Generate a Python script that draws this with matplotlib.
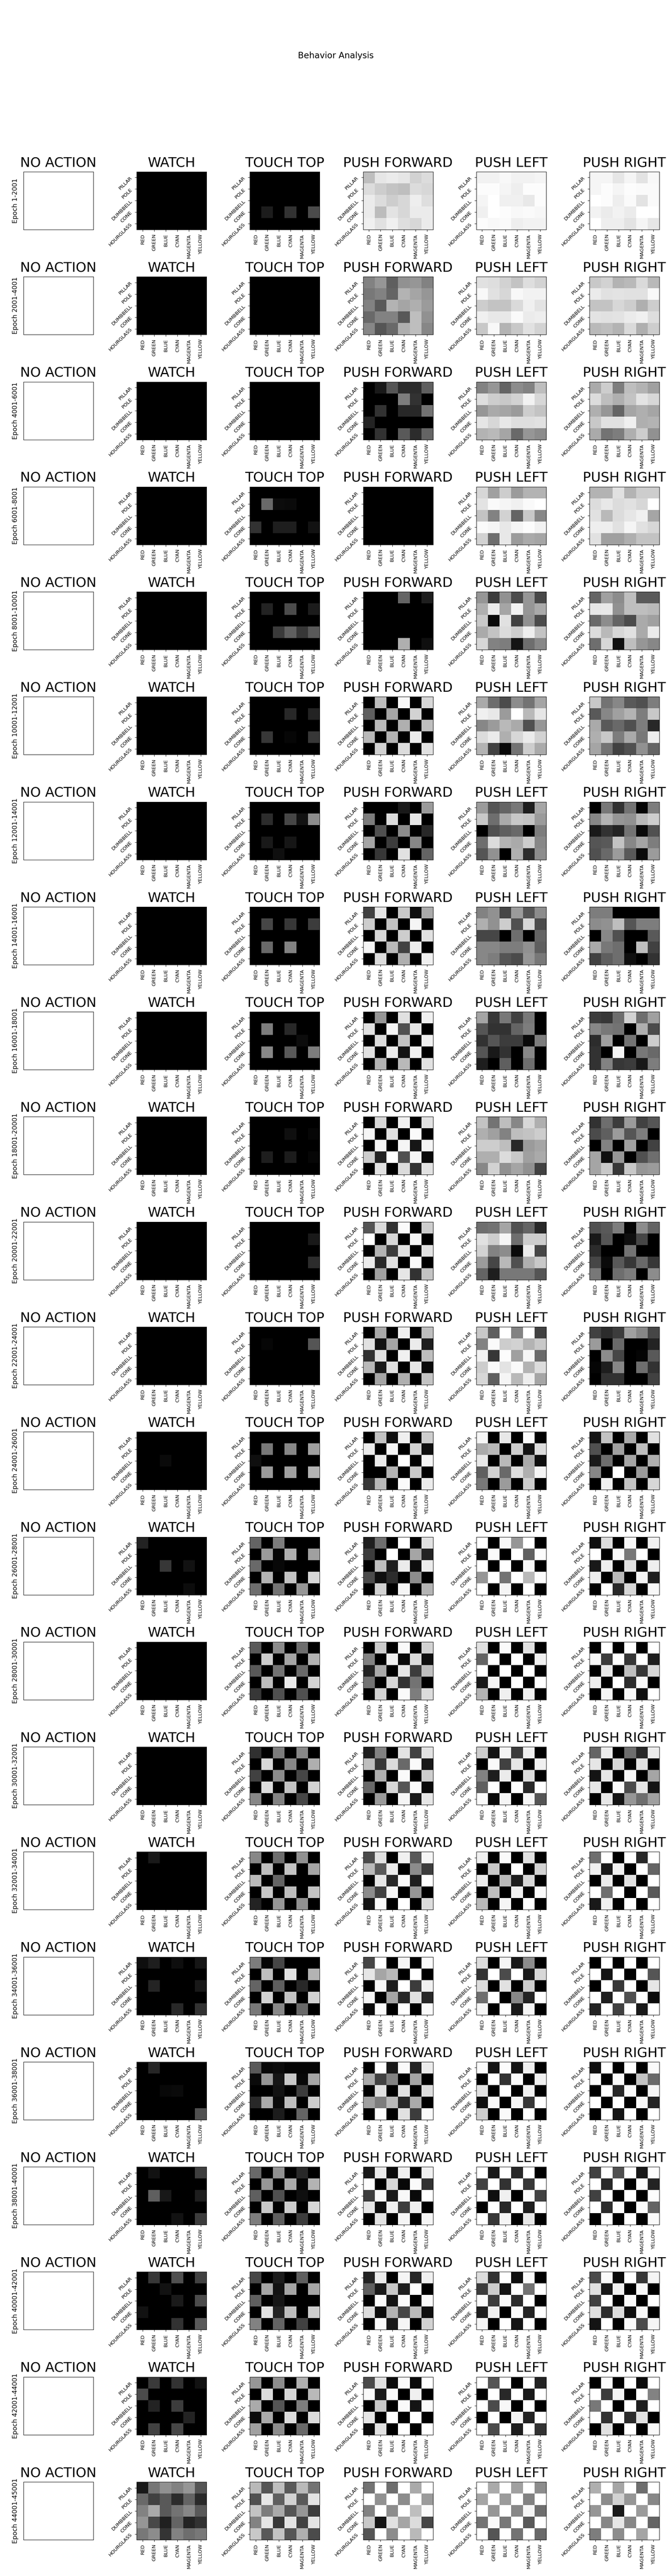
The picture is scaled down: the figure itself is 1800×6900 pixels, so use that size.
import numpy as np
import matplotlib
matplotlib.use('Agg')
import matplotlib.pyplot as plt

acciones = ['NO ACTION', 'WATCH', 'TOUCH TOP', 'PUSH FORWARD', 'PUSH LEFT', 'PUSH RIGHT']
colores = ['RED', 'GREEN', 'BLUE', 'CYAN', 'MAGENTA', 'YELLOW']
formas = ['PILLAR', 'POLE', 'DUMBBELL', 'CONE', 'HOURGLASS']
epocas = ['1-2001', '2001-4001', '4001-6001', '6001-8001', '8001-10001', '10001-12001',
          '12001-14001', '14001-16001', '16001-18001', '18001-20001', '20001-22001',
          '22001-24001', '24001-26001', '26001-28001', '28001-30001', '30001-32001',
          '32001-34001', '34001-36001', '36001-38001', '38001-40001', '40001-42001',
          '42001-44001', '44001-45001']

# gray level of each cell (0-255), one panel per epoch
Z = [[0, 0, 0, 0, 0, 0]] * 5

watch = [Z, Z, Z, Z, Z, Z, Z, Z, Z, Z, Z, Z,
    [[0,0,0,0,0,0],[0,0,0,0,0,0],[0,0,10,0,0,0],[0,0,0,0,0,0],[0,0,0,0,0,0]],
    [[35,0,0,0,0,0],[0,0,0,0,0,0],[0,0,55,0,18,0],[0,0,0,0,0,0],[0,0,0,0,12,0]],
    Z, Z,
    [[0,25,0,0,0,0],[0,0,0,0,0,0],[0,0,0,0,0,0],[0,0,0,0,0,0],[0,0,0,0,0,0]],
    [[14,30,0,14,0,22],[0,0,0,0,0,0],[0,36,0,0,0,24],[0,0,0,0,0,0],[0,0,0,40,0,50]],
    [[0,38,0,0,0,0],[0,0,0,0,0,0],[0,0,8,10,0,0],[0,0,0,0,0,0],[0,0,0,0,0,80]],
    [[0,18,0,0,0,62],[0,0,0,0,0,0],[0,95,24,0,0,30],[0,0,0,0,0,0],[0,0,0,18,0,60]],
    [[0,55,0,80,0,65],[0,0,18,0,0,0],[0,0,0,26,0,75],[18,0,0,0,0,0],[0,0,0,50,0,90]],
    [[0,58,0,50,0,18],[75,0,0,0,0,0],[0,35,0,60,0,0],[0,0,0,0,35,0],[0,65,0,70,0,0]],
    [[25,118,145,130,150,85],[105,65,90,45,100,42],[130,170,90,115,135,90],[150,72,32,100,35,50],[120,140,52,130,110,120]],
]

touch_top = [
    [[0,0,0,0,0,0],[0,0,0,0,0,0],[0,0,0,0,0,0],[0,28,0,50,0,75],[0,0,0,0,0,0]],
    Z, Z,
    [[0,0,0,0,0,0],[0,105,12,10,0,0],[0,0,0,0,0,0],[50,0,30,30,0,18],[0,0,0,0,0,0]],
    [[0,0,0,0,0,0],[0,35,0,75,0,28],[0,0,0,0,0,0],[0,0,58,95,55,90],[0,0,0,0,0,0]],
    [[0,0,0,0,0,0],[0,0,0,40,0,35],[0,0,0,0,0,0],[0,55,0,6,0,55],[0,0,0,0,0,0]],
    [[0,0,0,0,0,0],[0,45,0,70,18,140],[0,0,0,0,0,0],[0,25,0,22,0,0],[0,0,15,0,0,0]],
    [[0,0,0,0,0,0],[0,70,0,55,0,60],[0,0,0,0,0,0],[0,105,0,130,0,0],[0,0,0,0,0,0]],
    [[0,0,0,0,0,0],[0,125,0,40,0,0],[0,0,0,0,12,0],[0,135,0,90,0,125],[0,0,0,0,0,0]],
    [[0,0,0,0,0,0],[0,0,0,15,0,6],[0,0,0,0,0,0],[0,30,0,28,0,6],[0,0,0,0,0,0]],
    [[0,0,0,0,0,0],[0,0,0,0,0,25],[0,0,0,0,0,0],[0,0,0,0,0,45],[0,0,0,0,0,0]],
    [[0,0,0,0,0,0],[0,6,0,0,0,85],[0,0,0,0,0,0],[0,0,0,0,0,0],[0,0,0,0,0,0]],
    [[0,0,0,0,0,0],[0,120,0,135,0,160],[15,0,0,0,0,0],[0,155,0,160,0,180],[0,0,0,0,0,0]],
    [[100,0,125,0,0,0],[0,155,5,175,0,160],[105,0,8,0,0,0],[0,180,0,195,0,215],[110,0,115,0,150,0]],
    [[90,0,140,0,110,0],[0,205,0,165,0,180],[90,0,115,0,105,0],[0,190,0,235,0,210],[55,0,80,0,80,0]],
    [[48,0,125,0,135,0],[0,215,0,135,0,175],[65,0,140,0,70,0],[0,220,0,195,0,210],[135,0,130,0,70,0]],
    [[135,0,110,0,145,0],[0,190,0,195,0,165],[185,0,100,0,0,0],[0,200,0,190,0,195],[35,0,150,0,145,0]],
    [[125,5,70,0,0,0],[0,190,0,225,0,180],[100,0,95,0,40,0],[0,210,0,195,0,210],[120,0,135,0,105,0]],
    [[90,8,12,5,5,5],[10,150,22,200,8,165],[0,0,18,0,60,0],[40,170,10,190,0,205],[0,0,28,0,100,0]],
    [[105,0,145,0,40,0],[0,150,0,170,5,180],[95,0,80,0,15,0],[0,200,0,205,0,215],[125,0,95,0,60,0]],
    [[70,0,28,0,95,0],[0,165,18,165,0,165],[95,0,22,0,0,0],[0,225,35,190,0,205],[130,0,100,0,65,0]],
    [[150,0,140,0,175,0],[0,220,0,215,0,185],[170,0,85,0,125,0],[10,170,0,220,0,220],[160,0,140,0,105,0]],
    [[185,85,190,90,185,115],[80,230,95,210,90,228],[195,125,170,85,150,60],[130,230,55,228,65,228],[200,90,195,85,175,75]],
]

push_forward = [
    [[190,230,235,230,210,220],[220,205,195,190,220,215],[235,220,205,215,238,222],[235,188,228,215,235,235],[240,225,240,222,215,235]],
    [[130,150,95,145,150,130],[120,130,100,180,165,150],[130,90,180,165,175,155],[105,130,130,88,190,145],[135,85,105,175,190,135]],
    [[0,25,85,45,45,95],[0,0,0,125,50,0],[0,50,0,40,40,115],[35,0,0,0,0,0],[0,50,0,90,45,100]],
    Z,
    [[0,0,0,100,0,30],[0,0,0,0,0,0],[0,0,0,0,0,0],[0,0,0,0,0,0],[0,0,0,175,0,15]],
    [[0,190,0,248,0,215],[95,0,165,0,210,0],[0,185,0,175,0,190],[185,0,180,0,235,0],[0,210,0,220,0,225]],
    [[0,0,0,25,0,155],[125,0,220,0,230,0],[0,80,0,140,0,40],[165,0,60,0,135,0],[0,55,0,225,0,100]],
    [[65,230,0,200,15,170],[205,0,195,0,245,0],[0,215,0,205,0,225],[245,0,185,65,235,0],[0,220,0,175,0,240]],
    [[0,150,0,225,0,240],[225,0,245,80,230,0],[0,220,0,195,0,240],[225,0,235,18,240,0],[0,180,0,185,0,225]],
    [[0,215,0,240,0,225],[245,0,225,0,250,0],[0,245,0,245,22,245],[205,35,255,80,245,10],[0,225,0,220,50,225]],
    [[85,220,50,250,0,205],[255,0,215,0,245,0],[0,180,60,225,0,225],[235,40,225,0,250,0],[0,160,0,230,50,195]],
    [[0,170,0,240,0,190],[225,18,165,0,235,30],[50,225,0,240,0,190],[185,25,225,0,230,10],[0,165,0,175,0,195]],
    [[0,195,15,240,0,205],[235,0,245,0,210,15],[0,235,0,255,0,245],[0,0,180,0,200,0],[55,185,0,250,0,235]],
    [[30,110,0,255,0,225],[60,0,255,0,165,35],[0,190,30,235,12,235],[75,15,45,0,140,0],[0,210,0,245,0,180]],
    [[0,205,0,250,0,210],[130,0,240,10,220,15],[35,170,0,230,60,190],[115,0,215,50,115,0],[0,210,0,250,125,220]],
    [[30,130,0,228,65,225],[190,55,220,105,250,25],[0,175,0,250,0,205],[105,0,215,85,250,10],[0,155,0,245,25,230]],
    [[75,225,0,240,90,245],[185,90,235,0,140,60],[0,230,40,250,30,255],[140,65,245,0,150,0],[20,250,0,255,0,220]],
    [[70,255,0,245,0,250],[230,165,185,0,255,0],[0,245,28,255,60,240],[245,0,165,40,225,40],[10,250,0,255,0,250]],
    [[0,255,25,250,35,235],[170,65,130,0,165,0],[0,225,0,225,0,220],[160,125,185,40,170,0],[0,252,0,225,60,250]],
    [[25,235,12,240,0,240],[252,0,215,8,250,50],[60,248,25,248,10,255],[230,12,240,60,238,0],[0,228,0,245,0,245]],
    [[35,235,0,245,40,240],[95,25,200,30,255,0],[0,250,20,250,0,250],[220,12,180,70,185,15],[0,250,25,245,0,210]],
    [[75,225,12,250,10,255],[250,25,250,0,240,0],[0,200,0,250,20,250],[230,0,255,0,255,0],[10,225,0,255,0,255]],
    [[115,255,110,255,170,255],[255,145,255,140,255,155],[130,255,140,255,190,250],[200,20,225,165,220,70],[85,255,140,255,185,255]],
]

push_left = [
    [[242,242,248,242,242,245],[252,252,245,238,252,252],[245,255,240,240,232,252],[240,255,252,248,250,247],[252,248,250,238,242,242]],
    [[225,222,210,195,222,212],[248,225,215,248,242,242],[205,195,195,218,240,228],[240,232,232,250,235,238],[200,248,180,200,225,212]],
    [[130,150,100,140,130,190],[222,205,200,210,242,215],[150,170,165,155,205,195],[230,215,232,222,222,225],[180,185,165,105,150,140]],
    [[215,160,205,155,180,180],[228,250,245,240,250,255],[195,130,210,100,200,135],[250,245,232,245,252,242],[210,110,232,155,170,165]],
    [[150,60,145,75,150,72],[175,235,165,242,150,170],[200,10,225,65,145,75],[170,195,220,205,238,195],[215,130,125,20,110,135]],
    [[170,110,75,140,115,165],[240,232,155,255,185,230],[135,155,185,170,80,150],[220,235,175,215,235,210],[180,65,8,115,205,170]],
    [[155,85,100,120,30,165],[200,110,170,200,195,155],[0,80,95,105,0,125],[110,220,180,170,205,135],[85,145,0,175,45,140]],
    [[130,145,70,155,85,140],[175,145,205,80,215,75],[70,70,0,110,0,100],[135,135,125,125,145,95],[135,125,85,75,150,120]],
    [[165,55,120,65,120,0],[85,50,50,100,125,0],[50,85,60,60,10,125],[85,25,50,0,135,0],[30,0,95,0,110,0]],
    [[195,115,190,135,215,175],[175,160,130,190,195,205],[205,205,190,40,155,165],[175,175,220,200,160,170],[135,210,145,165,145,65]],
    [[110,115,165,80,100,40],[225,205,245,110,205,205],[210,130,140,10,235,70],[155,70,185,80,175,200],[100,30,120,120,120,85]],
    [[200,95,255,130,255,65],[130,250,205,210,180,200],[242,55,252,160,245,105],[205,250,228,250,180,220],[215,95,245,185,238,165]],
    [[245,0,232,0,250,0],[170,185,0,205,20,220],[232,0,185,0,170,15],[95,210,105,222,175,245],[120,0,155,0,205,0]],
    [[255,0,248,150,255,0],[10,250,0,255,95,252],[255,0,255,0,248,0],[150,255,115,255,185,252],[255,0,245,0,255,0]],
    [[225,0,250,0,225,0],[100,255,0,255,0,240],[255,0,255,0,255,0],[25,245,0,255,0,255],[180,0,240,0,240,0]],
    [[205,20,245,60,240,0],[0,250,65,230,0,240],[130,30,235,0,220,0],[95,255,0,255,40,255],[250,10,245,0,245,85]],
    [[240,0,250,0,225,0],[0,200,0,255,0,210],[235,0,185,30,215,0],[0,190,0,240,0,250],[185,0,245,0,255,0]],
    [[220,0,245,25,140,0],[50,255,75,255,25,215],[220,0,225,0,205,0],[110,255,0,135,35,255],[245,0,255,25,245,0]],
    [[250,20,252,20,240,0],[0,255,50,250,0,240],[225,0,255,0,240,0],[15,250,0,245,55,255],[205,0,250,0,255,0]],
    [[255,25,255,40,255,0],[65,255,50,255,55,255],[255,15,240,0,250,65],[0,255,40,255,30,255],[255,55,245,0,230,0]],
    [[220,50,255,15,250,0],[60,205,20,255,115,255],[250,60,250,45,255,0],[30,240,0,250,35,255],[245,0,255,20,255,0]],
    [[255,85,255,0,255,35],[0,255,40,255,25,255],[255,75,248,0,255,0],[0,255,0,245,35,255],[255,75,255,30,255,50]],
    [[255,170,255,160,255,140],[165,255,155,255,130,255],[255,150,255,135,245,110],[115,250,120,255,90,255],[255,85,255,115,255,105]],
]

push_right = [
    [[245,245,230,245,228,248],[245,252,245,252,250,250],[255,252,238,250,228,250],[242,235,242,235,255,255],[255,238,238,228,245,230]],
    [[200,210,180,185,218,185],[235,225,228,225,225,248],[195,195,215,205,175,205],[228,225,228,235,240,222],[185,190,180,218,175,205]],
    [[170,205,125,190,180,160],[220,190,175,195,228,215],[175,150,100,165,175,165],[200,225,225,240,175,180],[170,115,125,175,205,145]],
    [[180,180,225,180,205,205],[220,232,220,225,215,255],[225,185,220,230,240,165],[238,238,225,245,225,215],[225,160,160,175,195,195]],
    [[100,160,140,190,90,90],[230,232,145,190,190,185],[105,140,100,75,170,160],[220,185,215,225,170,235],[110,215,15,190,150,135]],
    [[200,115,135,90,80,125],[90,135,160,180,125,200],[170,90,105,80,125,40],[175,200,125,170,120,238],[165,115,65,80,145,100]],
    [[0,120,50,115,5,125],[135,180,150,145,185,205],[25,50,35,115,10,80],[85,90,195,135,165,125],[80,105,155,90,10,155]],
    [[125,125,0,0,0,0],[140,145,190,85,125,125],[0,135,80,0,0,90],[170,120,110,0,190,65],[65,95,110,15,0,50]],
    [[60,55,110,210,110,160],[135,120,115,0,175,75],[45,160,0,115,0,205],[50,0,245,0,120,105],[50,130,55,60,25,125]],
    [[50,110,60,155,65,85],[75,95,155,85,125,0],[0,130,0,160,0,65],[165,15,150,0,80,110],[165,200,55,200,150,155]],
    [[80,90,125,5,140,100],[25,85,0,15,70,0],[45,0,0,115,0,0],[70,10,90,55,105,55],[120,0,110,125,0,140]],
    [[65,45,60,160,135,70],[155,0,105,0,0,35],[0,140,70,0,5,90],[5,30,135,0,110,50],[0,50,50,0,0,65]],
    [[20,195,0,170,0,225],[80,0,160,0,190,0],[25,110,0,165,0,175],[135,0,255,0,155,0],[0,240,0,195,0,215]],
    [[15,220,0,248,0,242],[255,0,250,120,255,0],[25,238,0,225,0,238],[238,0,185,0,242,30],[0,255,40,215,0,248]],
    [[0,255,0,255,0,255],[248,60,255,55,255,30],[0,232,0,190,55,215],[238,0,255,45,248,0],[0,245,0,248,15,255]],
    [[100,235,0,110,40,235],[230,0,215,0,225,0],[20,230,0,245,0,165],[230,0,250,75,230,20],[0,230,20,150,110,160]],
    [[110,255,0,255,40,255],[240,25,240,0,255,100],[0,235,0,225,0,255],[255,110,255,0,255,90],[25,240,0,255,0,255]],
    [[0,255,0,255,0,255],[255,20,255,0,255,85],[0,255,55,255,0,230],[255,30,255,80,255,10],[35,255,65,255,25,255]],
    [[15,255,0,255,0,250],[250,0,250,0,195,105],[0,255,40,250,0,245],[255,0,255,0,248,35],[0,255,20,255,0,255]],
    [[65,255,80,255,25,252],[255,40,255,0,252,35],[65,255,0,255,0,252],[255,45,252,0,250,100],[0,255,0,255,0,250]],
    [[75,250,10,255,55,245],[225,25,240,0,248,0],[65,255,0,250,0,255],[225,45,220,15,248,0],[20,255,0,250,75,245]],
    [[0,250,0,255,10,255],[255,60,245,0,255,130],[120,255,0,255,30,255],[255,50,252,45,225,0],[0,225,0,255,0,250]],
    [[175,255,165,255,110,255],[255,140,210,150,255,135],[150,255,25,255,155,255],[255,135,230,135,255,100],[125,255,140,255,165,255]],
]

paneles = [None, watch, touch_top, push_forward, push_left, push_right]


def grafico():

    fig, axes = plt.subplots(len(epocas), len(acciones), figsize=(18, 69), dpi=100)
    fig.subplots_adjust(left=63/1800, right=1766/1800, top=1-460/6900, bottom=1-6803/6900,
                        wspace=0.6214, hspace=0.8147)
    fig.suptitle('Behavior Analysis', fontsize=16.5)

    for i in range(len(epocas)):
        for j in range(len(acciones)):
            ax = axes[i, j]
            ax.set_title(acciones[j], fontsize=26, pad=10)

            if paneles[j] is None:
                ax.set_xticks([])
                ax.set_yticks([])
                if j == 0:
                    ax.set_ylabel('Epoch ' + epocas[i], fontsize=12.5, labelpad=9)
                continue

            ax.imshow(np.array(paneles[j][i]), cmap='gray', vmin=0, vmax=255, aspect='auto')
            ax.set_xticks(range(len(colores)))
            ax.set_xticklabels(colores, rotation=90, fontsize=9.5)
            ax.tick_params(axis='x', pad=5)
            ax.set_yticks(range(len(formas)))
            ax.set_yticklabels(formas, rotation=45, fontsize=9.5)

    fig.savefig('out.png', dpi=100)


grafico()
